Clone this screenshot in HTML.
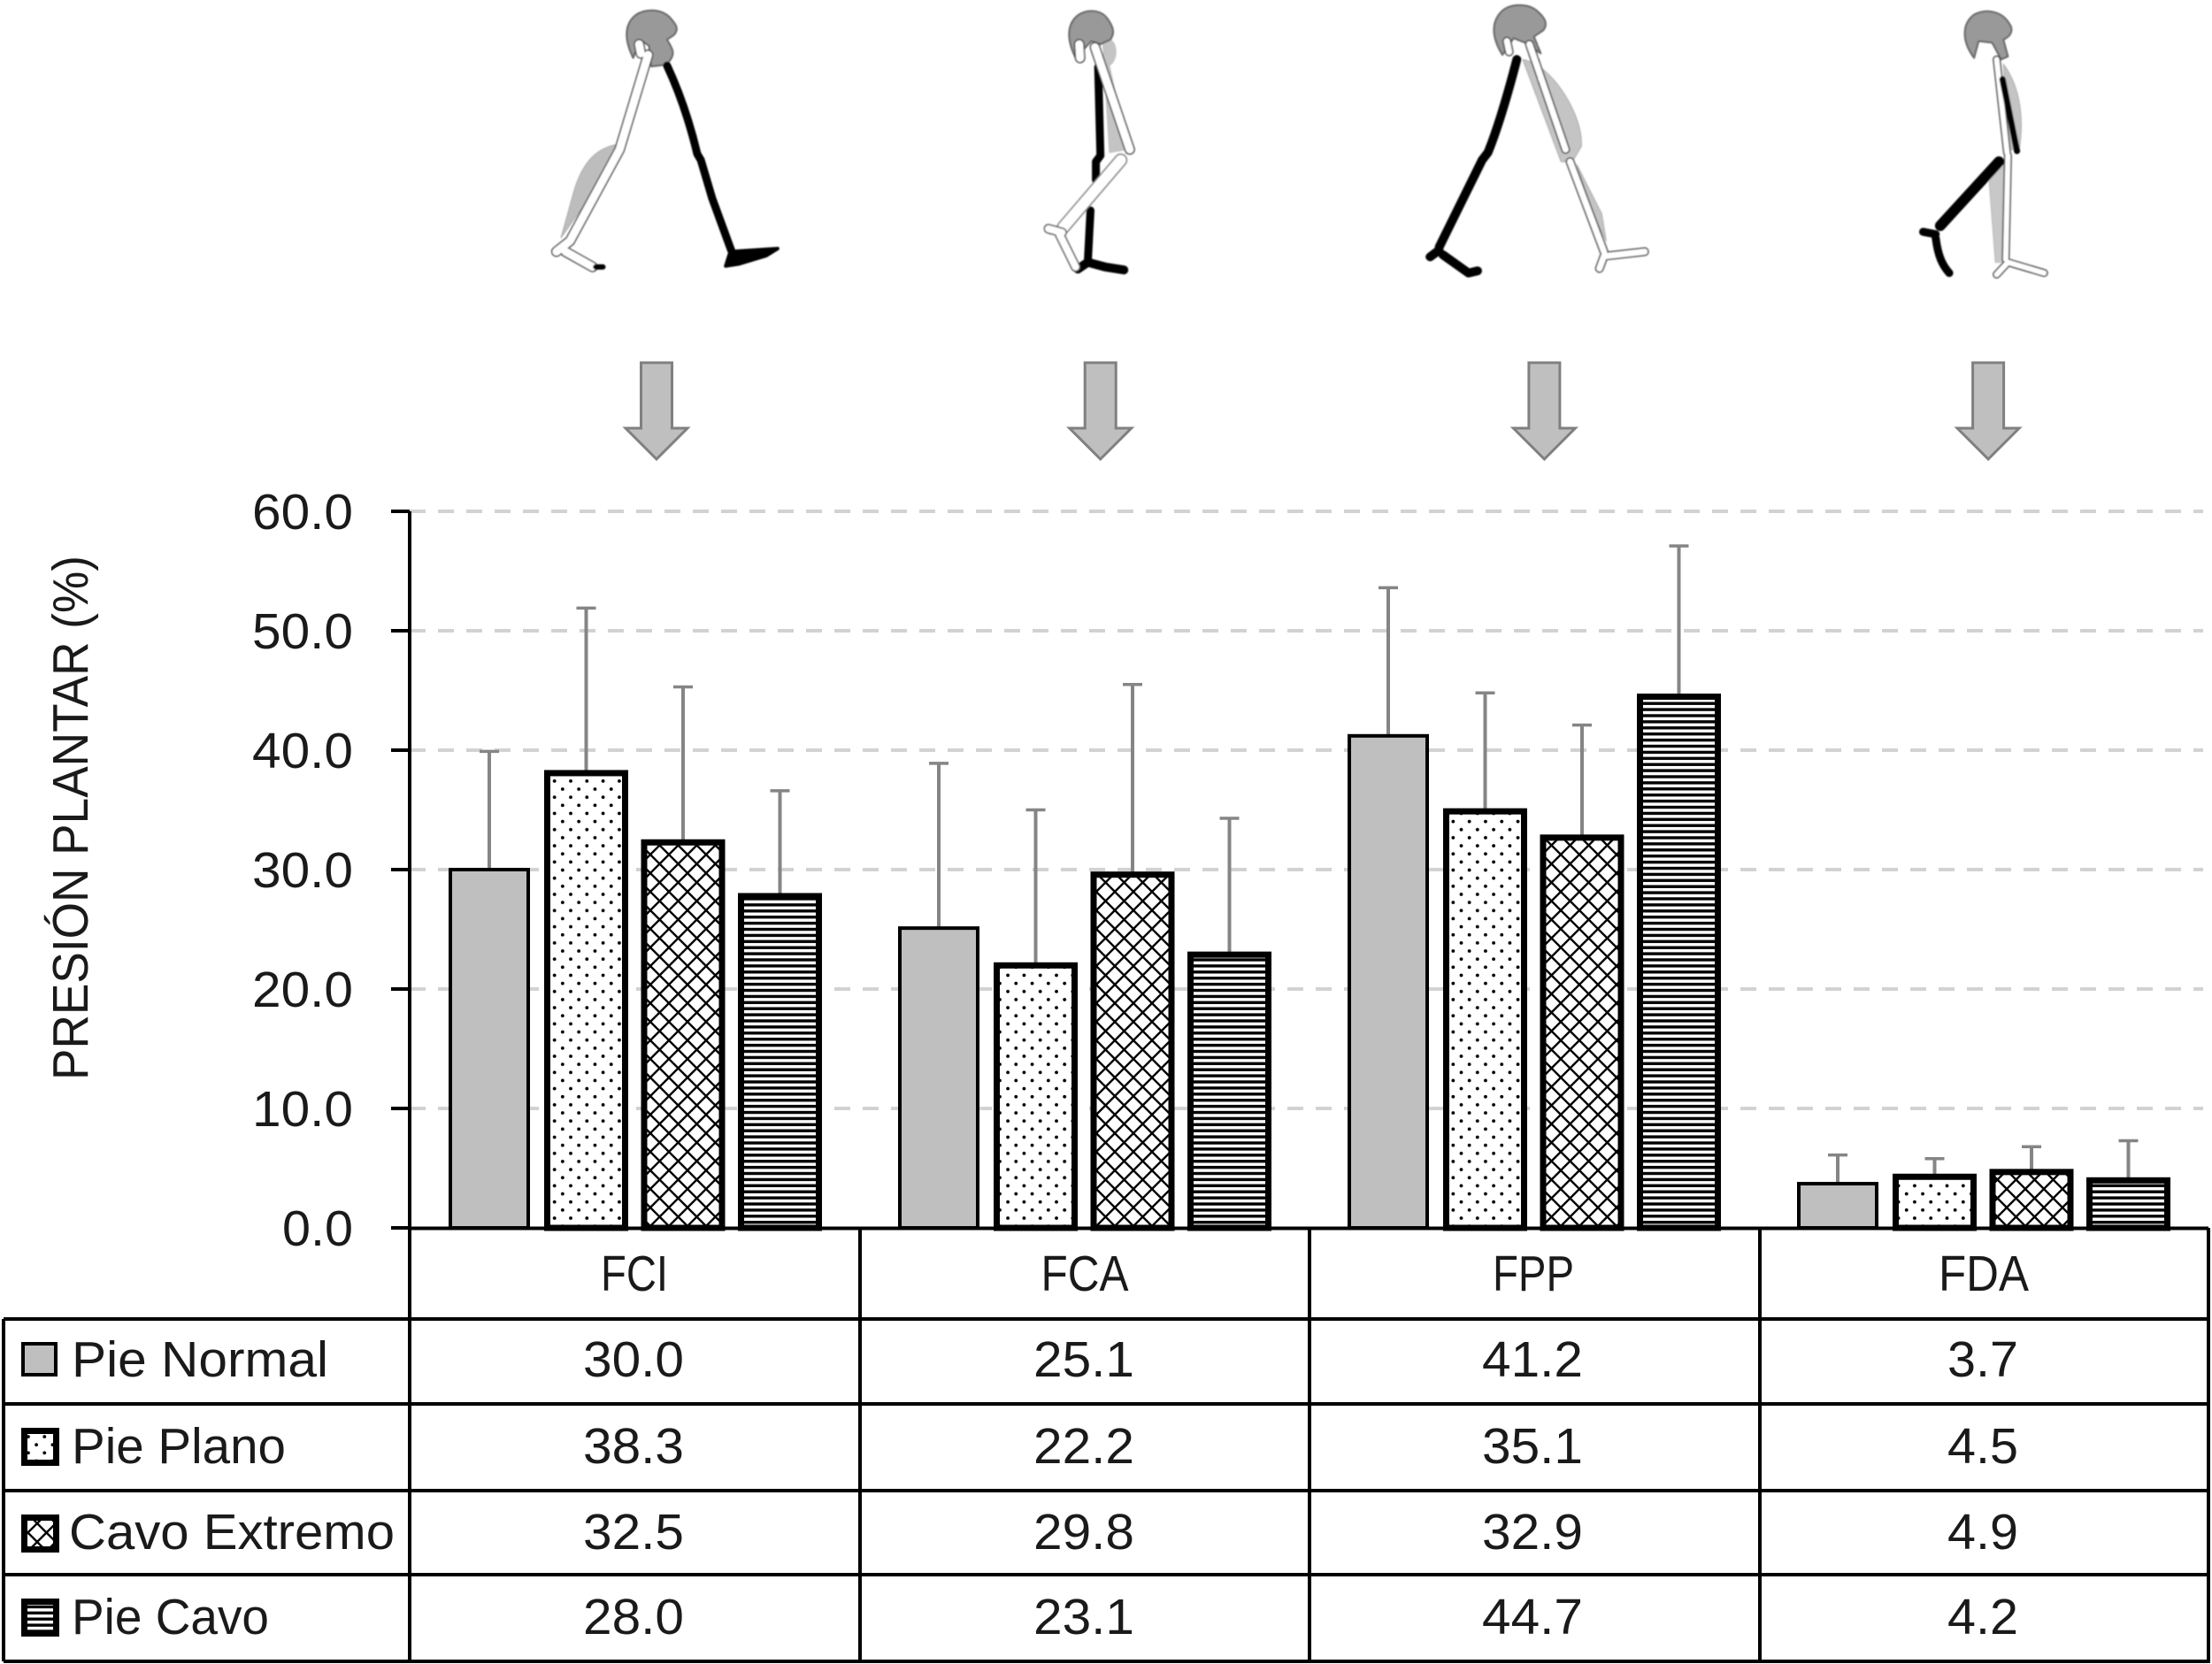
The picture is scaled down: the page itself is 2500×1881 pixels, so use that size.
<!DOCTYPE html>
<html lang="es">
<head>
<meta charset="utf-8">
<title>Presión plantar por fase de la marcha</title>
<style>
html,body{margin:0;padding:0;background:#fff;}
svg{display:block;}
text{font-family:"Liberation Sans",sans-serif;fill:#1a1a1a;}
</style>
</head>
<body>
<svg id="chart" xmlns="http://www.w3.org/2000/svg" width="2500" height="1881" viewBox="0 0 2500 1881">
<defs>
  <filter id="soft" x="-10%" y="-10%" width="120%" height="120%"><feGaussianBlur stdDeviation="0.9"/></filter>
  <pattern id="pat-dots" patternUnits="userSpaceOnUse" width="18.3" height="18.3">
    <rect width="18.3" height="18.3" fill="#fff"/>
    <circle cx="4.5" cy="4.5" r="1.9" fill="#000"/>
    <circle cx="13.65" cy="13.65" r="1.9" fill="#000"/>
  </pattern>
  <pattern id="pat-cross" patternUnits="userSpaceOnUse" width="21" height="21">
    <rect width="21" height="21" fill="#fff"/>
    <path d="M-2,-2 L23,23 M-2,23 L23,-2" stroke="#000" stroke-width="2.4" fill="none"/>
  </pattern>
  <pattern id="pat-lines" patternUnits="userSpaceOnUse" width="7" height="6.9">
    <rect width="7" height="6.9" fill="#fff"/>
    <rect y="0" width="7" height="3.4" fill="#000"/>
  </pattern>
</defs>

<g id="figures" filter="url(#soft)" fill="none" stroke-linecap="round" stroke-linejoin="round">
  <!-- figure 1 -->
  <g transform="translate(560,0) scale(0.5102,0.3448)">
    <path vector-effect="non-scaling-stroke" d="M265,475 C215,490 190,550 175,620 L145,780 L245,570 Z" fill="#bdbdbd" stroke="#aaa" stroke-width="1"/>
    <path vector-effect="non-scaling-stroke" d="M305,190 C285,130 285,80 310,50 C330,28 365,28 385,55 C400,80 408,95 395,115 L380,130 C388,150 398,170 390,190 L380,212 L345,218 L340,150 L320,130 Z" fill="#999" stroke="#666" stroke-width="2"/>
    <path vector-effect="non-scaling-stroke" d="M318,145 L322,175 M338,180 L275,490 L165,790 M135,825 L165,790 M155,825 L215,875" stroke="#444" stroke-width="12"/>
    <path vector-effect="non-scaling-stroke" d="M318,145 L322,175 M338,180 L275,490 L165,790 M135,825 L165,790 M155,825 L215,875" stroke="#fff" stroke-width="9"/>
    <path vector-effect="non-scaling-stroke" d="M380,215 C410,310 430,400 447,505 L455,525 L480,650 L522,820" stroke="#000" stroke-width="9"/>
    <path vector-effect="non-scaling-stroke" d="M510,872 L520,825 L625,815 L600,838 L540,865 Z" fill="#000" stroke="#000" stroke-width="4"/>
    <path vector-effect="non-scaling-stroke" d="M222,875 L238,875" stroke="#000" stroke-width="6"/>
  </g>
  <!-- figure 2 -->
  <g transform="translate(560,0) scale(0.5102,0.3448)">
    <path vector-effect="non-scaling-stroke" d="M1345,130 C1375,110 1385,190 1360,215 L1400,490 L1360,500 Z" fill="#c4c4c4" stroke="#bbb" stroke-width="1"/>
    <path vector-effect="non-scaling-stroke" d="M1285,190 C1265,130 1265,80 1290,50 C1310,30 1340,30 1355,60 C1370,90 1372,110 1362,130 L1340,145 L1320,135 Z" fill="#999" stroke="#666" stroke-width="2"/>
    <path vector-effect="non-scaling-stroke" d="M1335,220 L1340,510 L1330,530 L1330,590 M1318,690 L1312,860" stroke="#000" stroke-width="9"/>
    <path vector-effect="non-scaling-stroke" d="M1290,882 L1312,860 L1350,875 L1392,885" stroke="#000" stroke-width="10"/>
    <path vector-effect="non-scaling-stroke" d="M1293,145 L1295,190 M1328,155 L1405,490" stroke="#444" stroke-width="12"/>
    <path vector-effect="non-scaling-stroke" d="M1293,145 L1295,190 M1328,155 L1405,490" stroke="#fff" stroke-width="9"/>
    <path vector-effect="non-scaling-stroke" d="M1385,525 L1258,745" stroke="#777" stroke-width="15"/>
    <path vector-effect="non-scaling-stroke" d="M1385,525 L1258,745" stroke="#fff" stroke-width="12"/>
    <path vector-effect="non-scaling-stroke" d="M1225,750 L1255,762 M1250,770 L1285,875" stroke="#555" stroke-width="11"/>
    <path vector-effect="non-scaling-stroke" d="M1225,750 L1255,762 M1250,770 L1285,875" stroke="#fff" stroke-width="8"/>
  </g>
  <!-- figure 3 -->
  <g transform="translate(1550,0) scale(0.5102,0.3448)">
    <path vector-effect="non-scaling-stroke" d="M335,195 C400,210 470,380 465,480 L445,530 L420,530 Z" fill="#c4c4c4" stroke="#aaa" stroke-width="1"/>
    <path vector-effect="non-scaling-stroke" d="M455,540 L510,700 L520,790 L490,700 Z" fill="#c4c4c4" stroke="#aaa" stroke-width="1"/>
    <path vector-effect="non-scaling-stroke" d="M290,180 C265,120 265,70 290,35 C310,10 350,10 370,40 C385,60 392,80 380,100 L360,120 L375,175 L340,140 L315,125 Z" fill="#999" stroke="#666" stroke-width="2"/>
    <path vector-effect="non-scaling-stroke" d="M322,195 C300,320 280,420 258,500 L245,525 L150,810 M130,842 L150,820 M158,835 L215,895 L235,888" stroke="#000" stroke-width="10"/>
    <path vector-effect="non-scaling-stroke" d="M300,135 L305,170 M350,145 L430,490 M440,530 L515,825 M505,880 L515,840 L605,825" stroke="#444" stroke-width="10"/>
    <path vector-effect="non-scaling-stroke" d="M300,135 L305,170 M350,145 L430,490 M440,530 L515,825 M505,880 L515,840 L605,825" stroke="#fff" stroke-width="7"/>
  </g>
  <!-- figure 4 -->
  <g transform="translate(1550,0) scale(0.5102,0.3448)">
    <path vector-effect="non-scaling-stroke" d="M1400,210 C1440,290 1445,400 1435,490 L1410,490 Z" fill="#c4c4c4" stroke="#aaa" stroke-width="1"/>
    <path vector-effect="non-scaling-stroke" d="M1368,590 L1402,540 L1402,860 L1382,860 Z" fill="#c8c8c8" stroke="#bbb" stroke-width="1"/>
    <path vector-effect="non-scaling-stroke" d="M1335,190 C1305,130 1310,75 1335,48 C1360,28 1395,35 1412,75 C1425,100 1415,120 1400,130 L1410,185 L1395,195 L1375,140 L1345,135 Z" fill="#999" stroke="#666" stroke-width="2"/>
    <path vector-effect="non-scaling-stroke" d="M1385,195 L1408,500 M1410,510 L1405,850 M1385,900 L1410,860 L1490,895" stroke="#444" stroke-width="9"/>
    <path vector-effect="non-scaling-stroke" d="M1385,195 L1408,500 M1410,510 L1405,850 M1385,900 L1410,860 L1490,895" stroke="#fff" stroke-width="6"/>
    <path vector-effect="non-scaling-stroke" d="M1398,260 L1430,495" stroke="#000" stroke-width="7"/>
    <path vector-effect="non-scaling-stroke" d="M1390,530 L1260,740" stroke="#000" stroke-width="12"/>
    <path vector-effect="non-scaling-stroke" d="M1222,760 L1250,768 M1250,780 C1255,840 1265,870 1280,895" stroke="#000" stroke-width="9"/>
  </g>
</g>

<text transform="translate(99,1221) rotate(-90)" font-size="57" textLength="593" lengthAdjust="spacingAndGlyphs">PRESIÓN PLANTAR (%)</text>
<g id="arrows"></g>
<g id="grid"></g>
<g id="errors"></g>
<g id="bars"></g>
<g id="axis"></g>
<g id="table"></g>
</svg>

<script>
const categories = ["FCI", "FCA", "FPP", "FDA"];
const seriesNames = ["Pie Normal", "Pie Plano", "Cavo Extremo", "Pie Cavo"];
const pieNormal = [30.0, 25.1, 41.2, 3.7];
const piePlano = [38.3, 22.2, 35.1, 4.5];
const cavoExtremo = [32.5, 29.8, 32.9, 4.9];
const pieCavo = [28.0, 23.1, 44.7, 4.2];
const errNormal = [9.9, 13.8, 12.4, 2.4];
const errPlano = [13.6, 12.8, 9.7, 1.3];
const errExtremo = [12.8, 15.7, 9.2, 1.9];
const errCavo = [8.6, 11.2, 12.4, 3.1];
const yTicks = [0, 10, 20, 30, 40, 50, 60];

const seriesValues = [pieNormal, piePlano, cavoExtremo, pieCavo];
const seriesErrors = [errNormal, errPlano, errExtremo, errCavo];
const fills = ["#bfbfbf", "url(#pat-dots)", "url(#pat-cross)", "url(#pat-lines)"];
const strokeW = [4, 7, 7, 7];

const NS = "http://www.w3.org/2000/svg";
const yOf = v => 1388 - v * 13.5;
const barCenter = (g, s) => 553 + g * 508 + s * 109.5;
const BAR_W = 88;

function make(parent, tag, attrs, txt) {
  const el = document.createElementNS(NS, tag);
  for (const k in attrs) el.setAttribute(k, attrs[k]);
  if (txt !== undefined) el.textContent = txt;
  parent.appendChild(el);
  return el;
}
const $ = id => document.getElementById(id);
const numLen = str => str.length === 4 ? 114 : 80;

/* arrows above each group */
categories.forEach((c, i) => {
  const cx = 742 + i * 501.7;
  const pts = [[cx-17.5,410],[cx+17.5,410],[cx+17.5,484],[cx+35,484],[cx,519],[cx-35,484],[cx-17.5,484]];
  const a = make($("arrows"), "polygon", {points: pts.map(p => p.join(",")).join(" "), fill: "#bfbfbf", stroke: "#808080", "stroke-width": 3});
  
  
});

/* gridlines */
yTicks.forEach(t => {
  if (t === 0) return;
  const l = make($("grid"), "line", {x1: 463, x2: 2490, y1: yOf(t), y2: yOf(t), stroke: "#d2d2d2", "stroke-width": 4, "stroke-dasharray": "18 14"});
  
  
});

/* bars and error bars */
seriesValues.forEach((vals, s) => {
  vals.forEach((v, g) => {
    const cx = barCenter(g, s);
    const top = yOf(v + seriesErrors[s][g]);
    const stem = make($("errors"), "line", {x1: cx, x2: cx, y1: yOf(v), y2: top, stroke: "#858585", "stroke-width": 4});
    
    
    const cap = make($("errors"), "line", {x1: cx - 11, x2: cx + 11, y1: top, y2: top, stroke: "#858585", "stroke-width": 3.5});
    
    
    const sw = strokeW[s];
    const rTop = yOf(v) + (s === 0 ? 0 : sw / 2 - 0.5);
    const r = make($("bars"), "rect", {x: cx - BAR_W / 2, y: rTop, width: BAR_W, height: yOf(0) - rTop, fill: fills[s], stroke: "#000", "stroke-width": sw});
    
    
  });
});

/* y axis */
const axisLine = make($("axis"), "line", {x1: 463, x2: 463, y1: yOf(60), y2: 1878, stroke: "#000", "stroke-width": 4});


yTicks.forEach(t => {
  const tk = make($("axis"), "line", {x1: 442, x2: 463, y1: yOf(t), y2: yOf(t), stroke: "#000", "stroke-width": 4});
  
  
  const str = t.toFixed(1);
  const lb = make($("axis"), "text", {x: 399, y: yOf(t) + 20, "text-anchor": "end", "font-size": 57, textLength: numLen(str), lengthAdjust: "spacingAndGlyphs"}, str);
  
  
});

/* data table */
const T = $("table");
const colEdges = [463, 972, 1480, 1989, 2496];
const colCenters = [716, 1225, 1732, 2241];
const rowLines = [1491, 1587, 1685, 1780, 1878];
const rowBase = [1556, 1654, 1751, 1847];
const swatchTop = [1517, 1614, 1712, 1807];
const labelLen = [290, 242, 368, 223];
const catLen = [76, 99, 92, 102];

const hz = make(T, "path", {d: "M463,1388.5H2496", stroke: "#000", "stroke-width": 4, fill: "none"});


rowLines.forEach(y => {
  const l = make(T, "line", {x1: 4, x2: 2498, y1: y, y2: y, stroke: "#000", "stroke-width": 4});
  
  
});
const leftEdge = make(T, "line", {x1: 4, x2: 4, y1: 1491, y2: 1878, stroke: "#000", "stroke-width": 4});


colEdges.forEach((x, i) => {
  if (i === 0) return;
  const l = make(T, "line", {x1: x, x2: x, y1: 1388, y2: 1878, stroke: "#000", "stroke-width": 4});
  
  
});
categories.forEach((c, g) => {
  const h = make(T, "text", {x: colCenters[g] + 1, y: 1459, "text-anchor": "middle", "font-size": 57, textLength: catLen[g], lengthAdjust: "spacingAndGlyphs"}, c);
  
  
});
seriesNames.forEach((name, s) => {
  const swW = strokeW[s];
  const sw = make(T, "rect", {x: 24 + swW / 2, y: swatchTop[s] + swW / 2, width: (s === 0 ? 41 : 43) - swW, height: (s === 0 ? 39 : 43) - swW, fill: fills[s], stroke: "#000", "stroke-width": swW});
  
  
  const lb = make(T, "text", {x: s === 2 ? 78 : 81, y: rowBase[s], "font-size": 57, textLength: labelLen[s], lengthAdjust: "spacingAndGlyphs"}, name);
  
  
  seriesValues[s].forEach((v, g) => {
    const str = v.toFixed(1);
    const cell = make(T, "text", {x: colCenters[g], y: rowBase[s], "text-anchor": "middle", "font-size": 57, textLength: numLen(str), lengthAdjust: "spacingAndGlyphs"}, str);
    
    
  });
});
</script>
</body>
</html>
